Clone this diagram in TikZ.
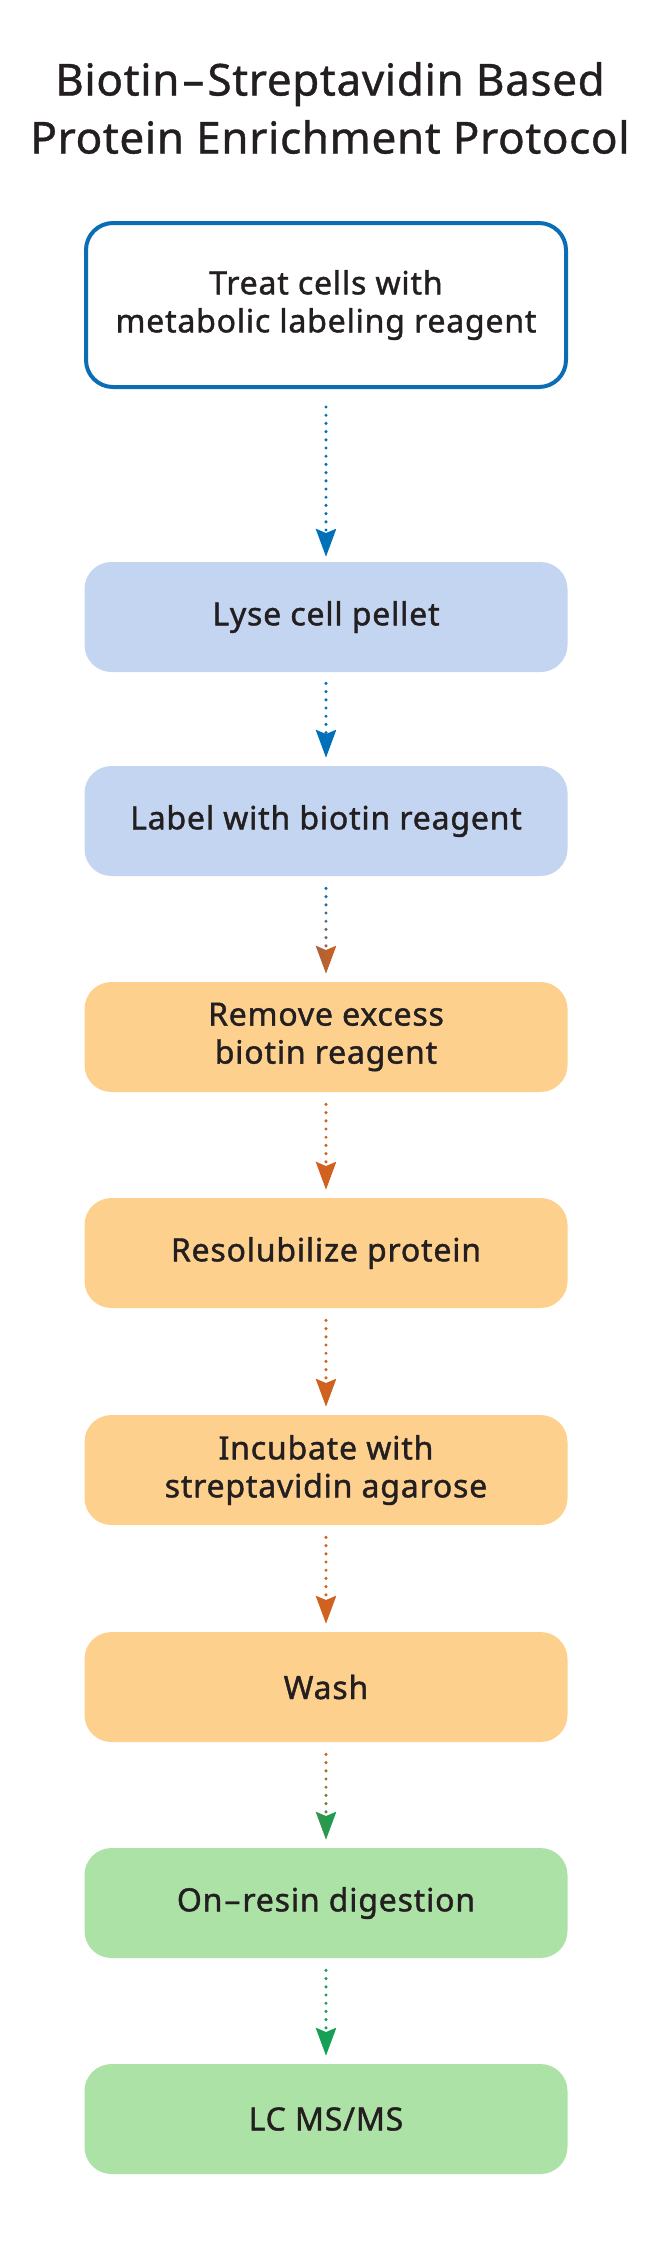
\documentclass[tikz,border=0pt]{standalone}
\usepackage{fontspec}
\setmainfont{Noto Sans}
\newfontfamily\boxfont{Noto Sans}[FakeBold=1.3, LetterSpace=2.5]
\newfontfamily\ttlfont{Noto Sans}[FakeBold=0.9, LetterSpace=1.5]
\usetikzlibrary{calc,decorations.markings}
\definecolor{txt}{HTML}{231F20}
\definecolor{outblue}{HTML}{0B6EB5}
\definecolor{arrblue}{HTML}{0070B8}
\definecolor{arrorange}{HTML}{D0611E}
\definecolor{arrgreen}{HTML}{15A055}
\definecolor{fillblue}{HTML}{C3D5F0}
\definecolor{fillorange}{HTML}{FED08E}
\definecolor{fillgreen}{HTML}{ADE2A6}
\tikzset{
  stepbox/.style={rectangle, rounded corners=13.5pt, minimum width=241.5pt,
    minimum height=55pt, inner sep=0pt, align=center, text=txt,
    font=\boxfont\fontsize{16}{19}\selectfont},
  bluebox/.style={stepbox, fill=fillblue},
  orangebox/.style={stepbox, fill=fillorange},
  greenbox/.style={stepbox, fill=fillgreen},
  firstbox/.style={stepbox, draw=outblue, line width=2pt, fill=white,
    minimum width=240pt, minimum height=82pt},
  titletext/.style={align=center, text=txt, inner sep=0pt,
    font=\ttlfont\fontsize{22}{29}\selectfont},
  flow/.style 2 args={postaction={decorate}, decoration={markings,
    mark=between positions 0 and -12pt step 4.1pt with {%
      \pgfmathtruncatemacro\pct{100*\pgfkeysvalueof{/pgf/decoration/mark info/distance from start}/\pgfdecoratedpathlength}%
      \fill[color=#2!\pct!#1] (0pt,0pt) circle (0.85pt);},
    mark=at position 1 with {%
      \shade[left color=#2!80!#1, right color=#2]
        (0pt,0pt) -- (-14pt,5.2pt) -- (-11.8pt,0pt) -- (-14pt,-5.2pt) -- cycle;}}}
}
\begin{document}
\begin{tikzpicture}[x=0.5pt, y=-0.5pt]
\useasboundingbox (0,0) rectangle (646,2267);
\node[titletext] (title) at (330,108) {Biotin\kern1.5pt–\kern1.5pt Streptavidin Based\\Protein Enrichment Protocol};
\node[firstbox] (n1) at (326,305) {Treat cells with\\metabolic labeling reagent};
\node[bluebox] (n2) at (326,617) {Lyse cell pellet};
\node[bluebox] (n3) at (326,821) {Label with biotin reagent};
\node[orangebox] (n4) at (326,1037) {Remove excess\\biotin reagent};
\node[orangebox] (n5) at (326,1253) {Resolubilize protein};
\node[orangebox] (n6) at (326,1470) {Incubate with\\streptavidin agarose};
\node[orangebox] (n7) at (326,1687) {Wash};
\node[greenbox] (n8) at (326,1903) {On\kern1pt–\kern1pt resin digestion};
\node[greenbox] (n9) at (326,2119) {LC MS/MS};
\path[flow={arrblue}{arrblue}] ($(n1.south)+(0,18)$) -- ($(n2.north)+(0,-5)$);
\path[flow={arrblue}{arrblue}] ($(n2.south)+(0,11)$) -- ($(n3.north)+(0,-8)$);
\path[flow={arrblue}{arrorange}] ($(n3.south)+(0,12)$) -- ($(n4.north)+(0,-8)$);
\path[flow={arrorange}{arrorange}] ($(n4.south)+(0,12)$) -- ($(n5.north)+(0,-8)$);
\path[flow={arrorange}{arrorange}] ($(n5.south)+(0,12)$) -- ($(n6.north)+(0,-8)$);
\path[flow={arrorange}{arrorange}] ($(n6.south)+(0,12)$) -- ($(n7.north)+(0,-8)$);
\path[flow={arrorange}{arrgreen}] ($(n7.south)+(0,12)$) -- ($(n8.north)+(0,-8)$);
\path[flow={arrgreen}{arrgreen}] ($(n8.south)+(0,12)$) -- ($(n9.north)+(0,-8)$);
\end{tikzpicture}
\end{document}
